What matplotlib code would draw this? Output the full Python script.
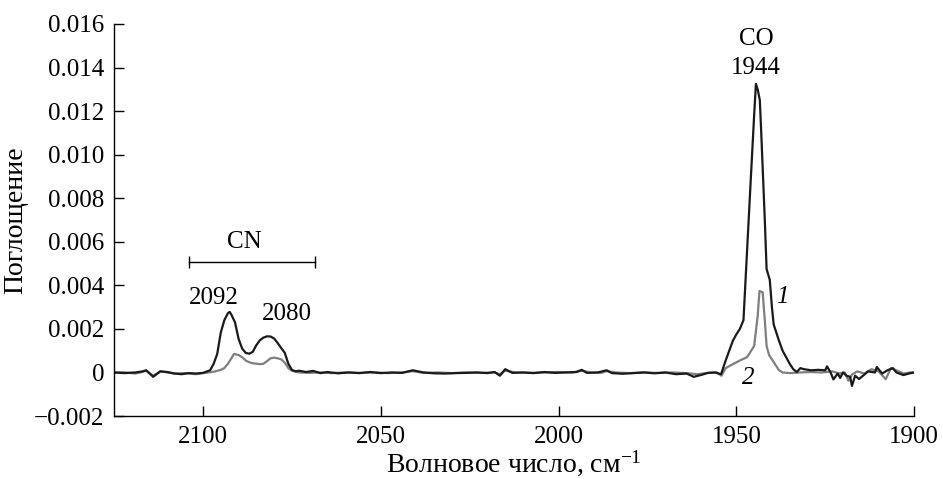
import matplotlib.pyplot as plt
import numpy as np
from matplotlib.ticker import FuncFormatter

plt.rcParams['font.family'] = ['Liberation Serif', 'DejaVu Serif']
plt.rcParams['mathtext.fontset'] = 'custom'
plt.rcParams['mathtext.rm'] = 'Liberation Serif'
plt.rcParams['mathtext.it'] = 'Liberation Serif:italic'

# spectrum 1 (black), absorbance in units of 1e-3
wn1 = [2125, 2122, 2119, 2117, 2116, 2114, 2112, 2110, 2108, 2106, 2104, 2102, 2100,
       2098, 2097, 2096, 2095, 2094, 2093, 2092.5, 2092, 2091, 2090, 2089, 2088, 2087,
       2086, 2085, 2084, 2083, 2082, 2081, 2080, 2079, 2078, 2077, 2076, 2075, 2074,
       2073, 2071, 2069, 2067, 2065, 2062, 2059, 2056, 2053, 2050, 2047, 2044, 2041,
       2038, 2035, 2032, 2029, 2026, 2023, 2020, 2018, 2016.5, 2015, 2013, 2010, 2007,
       2004, 2001, 1998, 1995, 1993.5, 1992, 1989, 1986.5, 1985, 1982, 1979, 1976,
       1973, 1970, 1967, 1964, 1962, 1960, 1958, 1956, 1954.3, 1953, 1952, 1951, 1950,
       1949, 1948, 1947, 1946, 1945, 1944.5, 1944, 1943.4, 1943, 1942, 1941.5, 1940.6,
       1940, 1939.5, 1938, 1937, 1936, 1935, 1934, 1933, 1932, 1931, 1929, 1927, 1925,
       1924.5, 1923.5, 1922.7, 1921.5, 1920.8, 1920, 1919, 1918, 1917.5, 1916.6,
       1915.5, 1914, 1913, 1911, 1910.5, 1909, 1907.5, 1906, 1905, 1903, 1901.5, 1900]
a1 = [0.00, -0.03, 0.00, 0.05, 0.10, -0.20, 0.05, 0.02, -0.05, -0.08, -0.03, -0.05, -0.02,
      0.10, 0.40, 0.85, 1.83, 2.40, 2.72, 2.78, 2.65, 2.30, 1.55, 1.10, 0.90, 0.86,
      0.95, 1.25, 1.48, 1.60, 1.66, 1.65, 1.56, 1.35, 1.12, 0.90, 0.40, 0.12, 0.05,
      0.08, 0.02, 0.07, -0.03, 0.02, -0.04, 0.00, -0.03, 0.02, -0.03, 0.00, -0.02, 0.10,
      0.00, -0.04, -0.05, -0.03, -0.02, 0.00, -0.03, 0.02, -0.15, 0.15, -0.02, 0.00, -0.03,
      0.02, -0.02, 0.00, 0.02, 0.12, -0.02, 0.00, 0.10, -0.03, -0.06, -0.03, 0.00,
      -0.04, 0.00, -0.08, -0.05, -0.20, -0.12, -0.02, 0.00, -0.08, 0.55, 1.00, 1.45, 1.75,
      2.00, 2.40, 5.60, 8.70, 11.80, 13.25, 13.00, 12.50, 11.00, 7.00, 4.75, 4.25,
      3.00, 2.20, 1.45, 1.00, 0.70, 0.40, 0.15, 0.02, 0.20, 0.15, 0.10, 0.12, 0.10,
      0.28, 0.00, -0.32, -0.05, -0.25, 0.00, -0.15, -0.20, -0.62, -0.15,
      -0.30, -0.10, 0.05, 0.00, 0.25, -0.05, 0.10, 0.20, 0.00, -0.12, -0.05, 0.00]

# spectrum 2 (grey)
wn2 = [2125, 2122, 2119, 2117, 2116, 2114, 2112, 2110, 2108, 2105, 2102, 2100, 2097,
       2095, 2094, 2093, 2092, 2091.3, 2090, 2089, 2088, 2087, 2086, 2084, 2083, 2082,
       2081, 2080, 2079, 2078, 2077, 2076, 2075, 2073, 2070, 2067, 2064, 2060, 2056,
       2052, 2048, 2044, 2041, 2038, 2034, 2030, 2026, 2022, 2018, 2016.5, 2015, 2012,
       2008, 2004, 2000, 1996, 1993.5, 1991, 1988, 1986.5, 1984, 1980, 1976, 1972,
       1968, 1964, 1961, 1958, 1955.5, 1954.2, 1953, 1951, 1949, 1947, 1946, 1945,
       1944, 1943.5, 1942.6, 1942, 1941.5, 1940.8, 1940, 1939, 1938, 1937, 1935, 1932,
       1929, 1926, 1923, 1921, 1919.5, 1918.5, 1917.5, 1916, 1914, 1912, 1910, 1908,
       1906.5, 1905, 1903, 1901, 1900]
a2 = [-0.02, 0.00, -0.05, 0.02, 0.08, -0.15, 0.05, 0.00, -0.05, -0.03, -0.08, -0.03, 0.03,
      0.12, 0.20, 0.40, 0.65, 0.85, 0.80, 0.70, 0.55, 0.47, 0.42, 0.38, 0.40, 0.52,
      0.65, 0.68, 0.65, 0.60, 0.45, 0.20, 0.08, 0.00, -0.02, 0.00, -0.03, 0.00, -0.02,
      0.00, -0.03, 0.00, 0.06, -0.02, 0.00, -0.03, 0.00, -0.02, 0.00, -0.08, 0.08, 0.00,
      -0.02, 0.00, 0.02, 0.00, 0.08, 0.00, -0.02, 0.06, 0.00, -0.03, 0.00, -0.02,
      0.00, -0.03, -0.08, -0.02, 0.00, -0.15, 0.20, 0.38, 0.55, 0.70, 0.95, 1.22,
      2.60, 3.74, 3.68, 2.40, 1.22, 0.80, 0.60, 0.35, 0.10, 0.00, -0.03, 0.00,
      0.02, 0.00, 0.05, -0.05, 0.00, -0.38, -0.10, 0.05, -0.05, 0.15, 0.05, -0.31,
      0.20, 0.10, -0.05, 0.00, 0.00]

xticks = [2100, 2050, 2000, 1950, 1900]
yticks = [-0.002, 0, 0.002, 0.004, 0.006, 0.008, 0.010, 0.012, 0.014, 0.016]

fs = 18      # tick labels and annotations
fs_lab = 20  # axis titles
fig = plt.figure(figsize=(9.43, 4.79), dpi=100)
ax = fig.add_axes([0.121, 0.1315, 0.8484, 0.8184])

ax.plot(wn2, np.array(a2) * 1e-3, color='#7f7f7f', lw=1.6)
ax.plot(wn1, np.array(a1) * 1e-3, color='#1a1a1a', lw=1.6)

ax.set_xlim(2125, 1900)
ax.set_ylim(-0.002, 0.016)
ax.set_xticks(xticks)
ax.set_yticks(yticks)
ax.yaxis.set_major_formatter(FuncFormatter(
    lambda v, p: '0' if abs(v) < 1e-9 else ('%.3f' % v).replace('-', '\u2212')))
ax.tick_params(direction='in', length=7, width=1, labelsize=fs, pad=7)
ax.spines['top'].set_visible(False)
ax.spines['right'].set_visible(False)
for s in ['left', 'bottom']:
    ax.spines[s].set_linewidth(1)

ax.set_xlabel('Волновое число, см$^{\u22121}$', fontsize=fs_lab, labelpad=0.5)
ax.set_ylabel('Поглощение', fontsize=fs_lab, labelpad=4)

# annotations
ax.text(1944.5, 0.0153, 'CO', fontsize=fs, ha='center', va='center', clip_on=False)
ax.text(1944.5, 0.0140, '1944', fontsize=fs, ha='center', va='center')
ax.text(2088.5, 0.0060, 'CN', fontsize=fs, ha='center', va='center')
ax.plot([2103.8, 2068.5], [0.00508, 0.00508], color='black', lw=1,
        marker='|', markersize=9, markeredgewidth=1)
ax.text(2096.9, 0.00344, '2092', fontsize=fs, ha='center', va='center')
ax.text(2076.3, 0.00267, '2080', fontsize=fs, ha='center', va='center')
ax.text(1937.2, 0.00345, '1', fontsize=fs, ha='center', va='center', style='italic')
ax.text(1946.8, -0.00025, '2', fontsize=fs, ha='center', va='center', style='italic')

fig.savefig('out.png', dpi=100)
